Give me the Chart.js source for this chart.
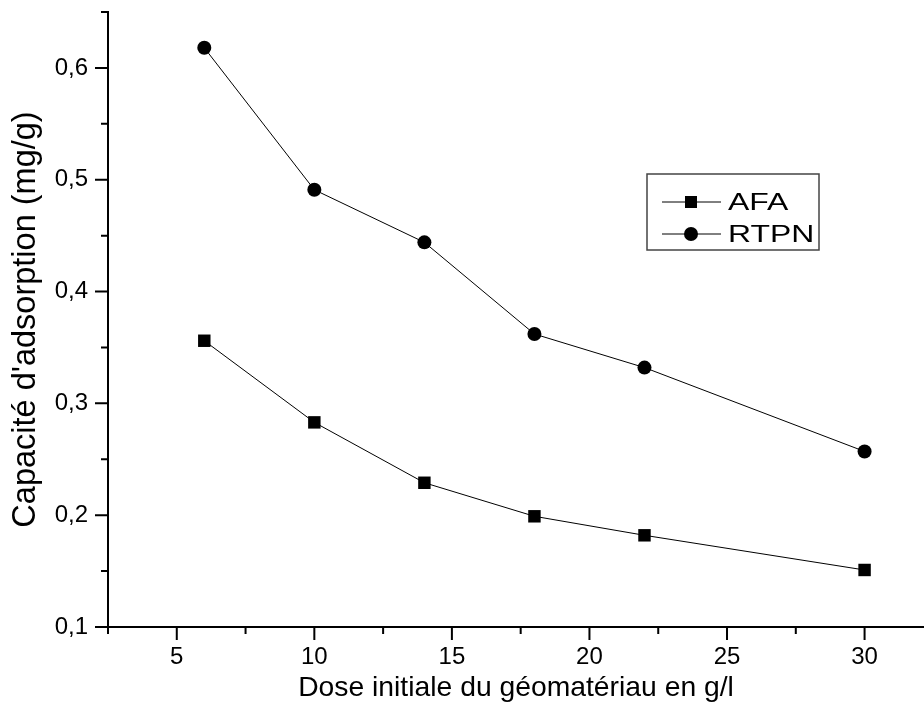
<!DOCTYPE html>
<html>
<head>
<meta charset="utf-8">
<script src="https://cdn.jsdelivr.net/npm/chart.js@4.4.1/dist/chart.umd.min.js"></script>
<style>
  html, body { margin: 0; padding: 0; background: #fff; }
  #wrap { width: 924px; height: 718px; }
</style>
</head>
<body>
<div id="wrap"><canvas id="myChart" width="924" height="718"></canvas></div>
<script>
const doses = [6, 10, 14, 18, 22, 30];
const afa = [0.356, 0.283, 0.229, 0.199, 0.182, 0.151];
const rtpn = [0.618, 0.491, 0.444, 0.362, 0.332, 0.257];

const xTicks = [5, 10, 15, 20, 25, 30];
const xMinor = [2.5, 7.5, 12.5, 17.5, 22.5, 27.5];
const yTicks = [0.1, 0.2, 0.3, 0.4, 0.5, 0.6];
const yMinor = [0.15, 0.25, 0.35, 0.45, 0.55, 0.65];

const FONT = "'Liberation Sans', Arial, sans-serif";

// origin-like tick marks: long majors, short minors, outside the axes
const tickMarks = {
    id: 'tickMarks',
    afterDraw(chart) {
        const ctx = chart.ctx;
        const x = chart.scales.x, y = chart.scales.y;
        const a = chart.chartArea;
        ctx.save();
        ctx.strokeStyle = '#000';
        ctx.lineWidth = 2;
        ctx.beginPath();
        xTicks.forEach(v => { const p = x.getPixelForValue(v); ctx.moveTo(p, a.bottom); ctx.lineTo(p, a.bottom + 13); });
        xMinor.forEach(v => { const p = x.getPixelForValue(v); ctx.moveTo(p, a.bottom); ctx.lineTo(p, a.bottom + 7); });
        yTicks.forEach(v => { const p = y.getPixelForValue(v); ctx.moveTo(a.left, p); ctx.lineTo(a.left - 13, p); });
        yMinor.forEach(v => { const p = y.getPixelForValue(v); ctx.moveTo(a.left, p); ctx.lineTo(a.left - 7, p); });
        ctx.stroke();
        ctx.restore();
    }
};

// boxed legend placed inside the plot, like the original
const boxLegend = {
    id: 'boxLegend',
    afterDraw(chart) {
        const ctx = chart.ctx;
        const bx = 647, by = 174, bw = 172, bh = 76;
        ctx.save();
        ctx.fillStyle = '#fff';
        ctx.fillRect(bx, by, bw, bh);
        ctx.strokeStyle = '#444';
        ctx.lineWidth = 1.5;
        ctx.strokeRect(bx, by, bw, bh);
        chart.data.datasets.forEach((ds, i) => {
            const cy = by + 28 + i * 32;
            ctx.strokeStyle = '#000';
            ctx.lineWidth = 1;
            ctx.beginPath();
            ctx.moveTo(bx + 15, cy);
            ctx.lineTo(bx + 74, cy);
            ctx.stroke();
            ctx.fillStyle = '#000';
            const mx = bx + 44;
            if (ds.pointStyle === 'rect') {
                ctx.fillRect(mx - 6, cy - 6, 12, 12);
            } else {
                ctx.beginPath();
                ctx.arc(mx, cy, 7, 0, Math.PI * 2);
                ctx.fill();
            }
            // the original's legend lettering is wide, stretch it a bit
            ctx.save();
            ctx.translate(bx + 81, cy + 1);
            ctx.scale(1.33, 1);
            ctx.font = '24px ' + FONT;
            ctx.textBaseline = 'middle';
            ctx.fillText(ds.label, 0, 0);
            ctx.restore();
        });
        ctx.restore();
    }
};

const commaFmt = v => v.toFixed(1).replace('.', ',');

new Chart(document.getElementById('myChart'), {
    type: 'line',
    data: {
        labels: doses,
        datasets: [{
            label: 'AFA',
            data: doses.map((d, i) => ({ x: d, y: afa[i] })),
            borderColor: '#000',
            backgroundColor: '#000',
            borderWidth: 1,
            pointStyle: 'rect',
            pointRadius: 8.8,
            pointBorderWidth: 0,
            fill: false
        }, {
            label: 'RTPN',
            data: doses.map((d, i) => ({ x: d, y: rtpn[i] })),
            borderColor: '#000',
            backgroundColor: '#000',
            borderWidth: 1,
            pointStyle: 'circle',
            pointRadius: 7,
            pointBorderWidth: 0,
            fill: false
        }]
    },
    options: {
        responsive: false,
        animation: false,
        devicePixelRatio: 1,
        layout: { autoPadding: false, padding: { top: 12, right: 0, bottom: 0, left: 0 } },
        plugins: {
            legend: { display: false },
            tooltip: { enabled: false }
        },
        scales: {
            x: {
                type: 'linear',
                min: 2.5,
                max: 32.16,
                afterBuildTicks: s => { s.ticks = xTicks.map(v => ({ value: v })); },
                afterFit: s => { s.height = 91; s.paddingLeft = 0; s.paddingRight = 0; },
                grid: { display: false, drawTicks: false },
                border: { display: true, color: '#000', width: 2 },
                ticks: {
                    color: '#000',
                    padding: 16,
                    maxRotation: 0,
                    font: { family: FONT, size: 24 },
                    callback: v => String(v)
                },
                title: {
                    display: true,
                    text: 'Dose initiale du géomatériau en g/l',
                    color: '#000',
                    font: { family: FONT, size: 28.3 },
                    padding: { top: 0, bottom: 13 }
                }
            },
            y: {
                min: 0.1,
                max: 0.65,
                afterBuildTicks: s => { s.ticks = yTicks.map(v => ({ value: v })); },
                afterFit: s => { s.width = 108; s.paddingTop = 0; s.paddingBottom = 0; },
                grid: { display: false, drawTicks: false },
                border: { display: true, color: '#000', width: 2 },
                ticks: {
                    color: '#000',
                    padding: 20,
                    font: { family: FONT, size: 24 },
                    callback: v => commaFmt(v)
                },
                title: {
                    display: true,
                    text: "Capacité d'adsorption (mg/g)",
                    color: '#000',
                    font: { family: FONT, size: 32.5 },
                    padding: { top: 7, bottom: 0 }
                }
            }
        }
    },
    plugins: [tickMarks, boxLegend]
});
</script>
</body>
</html>
